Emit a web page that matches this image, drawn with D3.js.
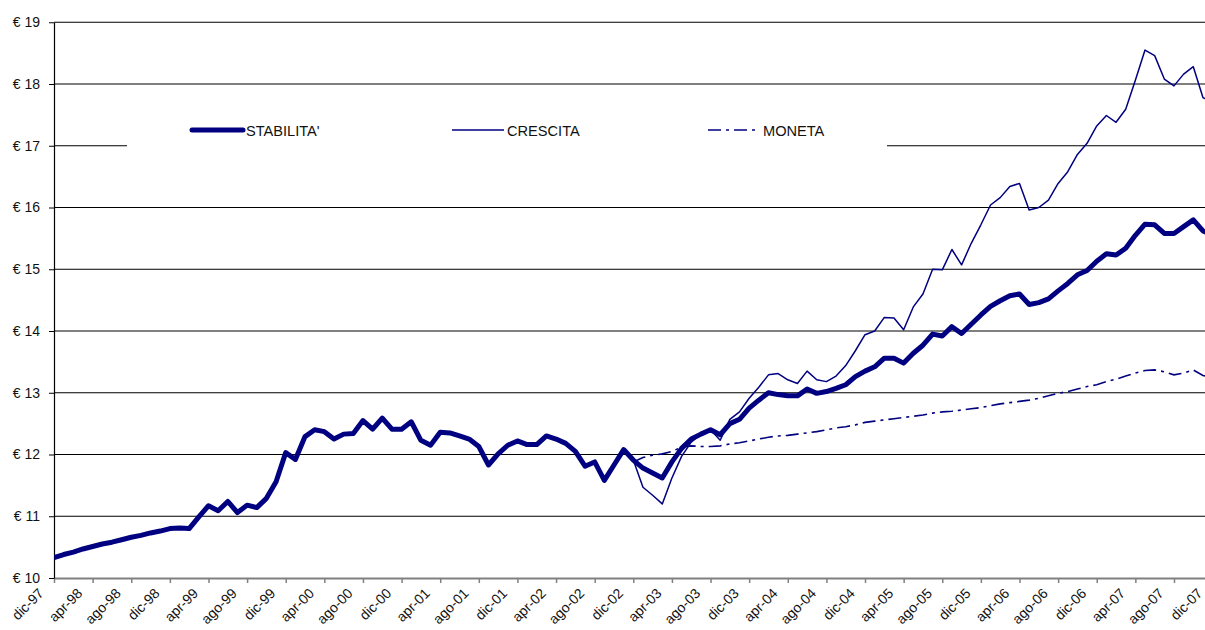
<!DOCTYPE html>
<html>
<head>
<meta charset="utf-8">
<script src="https://cdn.jsdelivr.net/npm/d3@7"></script>
<style>
html,body{margin:0;padding:0;background:#fff;overflow:hidden;}
svg{display:block;font-family:"Liberation Sans",Arial,sans-serif;}
</style>
</head>
<body>
<svg id="chart" width="1205" height="630"></svg>
<script>
// ---- data ----
const monthNames = ["gen","feb","mar","apr","mag","giu","lug","ago","set","ott","nov","dic"];
const startYear = 1997, startMonth = 11, nMonths = 121; // dic-97 .. dic-07
const categories = [];
for (let i = 0; i < nMonths; i++) {
  const m = (startMonth + i) % 12;
  const yr = startYear + Math.floor((startMonth + i) / 12);
  categories.push(monthNames[m] + "-" + String(yr % 100).padStart(2, "0"));
}
const tickLabels = ["dic-97","apr-98","ago-98","dic-98","apr-99","ago-99","dic-99","apr-00","ago-00","dic-00",
  "apr-01","ago-01","dic-01","apr-02","ago-02","dic-02","apr-03","ago-03","dic-03","apr-04","ago-04","dic-04",
  "apr-05","ago-05","dic-05","apr-06","ago-06","dic-06","apr-07","ago-07","dic-07"];
const yTicks = [10,11,12,13,14,15,16,17,18,19];
const seriesNames = ["STABILITA'","CRESCITA","MONETA"];

const stabilita = [
  10.33,10.38,10.42,10.47,10.51,10.55,10.58,10.62,10.66,10.69,10.73,10.76,
  10.80,10.81,10.80,10.99,11.17,11.09,11.24,11.06,11.18,11.14,11.29,11.56,
  12.03,11.92,12.29,12.40,12.37,12.25,12.33,12.34,12.55,12.41,12.59,12.41,
  12.41,12.53,12.23,12.15,12.36,12.35,12.30,12.25,12.13,11.83,12.01,12.15,
  12.22,12.16,12.16,12.30,12.25,12.18,12.05,11.81,11.88,11.58,11.83,12.08,
  11.91,11.78,11.70,11.62,11.88,12.10,12.25,12.33,12.40,12.32,12.50,12.57,
  12.75,12.88,13.00,12.97,12.95,12.95,13.06,12.99,13.02,13.07,13.13,13.26,
  13.35,13.42,13.56,13.56,13.48,13.64,13.77,13.95,13.92,14.07,13.96,14.11,
  14.26,14.40,14.49,14.57,14.60,14.43,14.46,14.52,14.65,14.77,14.91,14.98,
  15.13,15.25,15.23,15.34,15.55,15.73,15.72,15.58,15.58,15.69,15.80,15.62,
  15.55];
const crescita = [
  null,null,null,null,null,null,null,null,null,null,null,null,
  null,null,null,null,null,null,null,null,null,null,null,null,
  null,null,null,null,null,null,null,null,null,null,null,null,
  null,null,null,null,null,null,null,null,null,null,null,null,
  null,null,null,null,null,null,null,null,null,null,null,12.08,
  11.91,11.47,11.34,11.20,11.62,11.97,12.20,12.33,12.40,12.23,12.57,12.69,
  12.91,13.09,13.29,13.31,13.21,13.15,13.35,13.21,13.18,13.27,13.44,13.68,
  13.94,14.00,14.22,14.21,14.02,14.39,14.60,15.00,14.99,15.32,15.07,15.42,
  15.72,16.04,16.16,16.34,16.39,15.96,16.00,16.12,16.39,16.58,16.86,17.04,
  17.32,17.49,17.38,17.59,18.06,18.55,18.46,18.08,17.97,18.16,18.28,17.78,
  17.70];
const moneta = [
  null,null,null,null,null,null,null,null,null,null,null,null,
  null,null,null,null,null,null,null,null,null,null,null,null,
  null,null,null,null,null,null,null,null,null,null,null,null,
  null,null,null,null,null,null,null,null,null,null,null,null,
  null,null,null,null,null,null,null,null,null,null,null,null,
  11.88,11.95,11.99,12.01,12.05,12.12,12.14,12.13,12.13,12.14,12.17,12.19,
  12.22,12.25,12.28,12.30,12.31,12.33,12.35,12.37,12.40,12.43,12.45,12.48,
  12.52,12.54,12.56,12.58,12.60,12.62,12.64,12.67,12.69,12.70,12.72,12.74,
  12.76,12.79,12.82,12.84,12.86,12.88,12.91,12.95,12.99,13.02,13.06,13.10,
  13.13,13.18,13.22,13.27,13.32,13.36,13.37,13.34,13.29,13.32,13.37,13.28,
  13.25];

// ---- layout ----
const svg = d3.select("#chart");
const plotLeft = 54, plotRight = 54 + 120 * 9.655, plotTop = 22.25, plotBottom = 578;
const x = d3.scalePoint().domain(categories).range([plotLeft, plotRight]);
const y = d3.scaleLinear().domain([10, 19]).range([plotBottom, plotTop]);
const navy = "#000080";

svg.append("defs").append("clipPath").attr("id","plotclip")
  .append("rect").attr("x", plotLeft).attr("y", 0).attr("width", 1205 - plotLeft).attr("height", plotBottom + 3);

// gridlines
svg.append("g").selectAll("line").data(yTicks.filter(d => d > 10)).join("line")
  .attr("x1", plotLeft).attr("x2", 1205)
  .attr("y1", d => y(d)).attr("y2", d => y(d))
  .attr("stroke", "#000").attr("stroke-width", 1);

// x axis
const xAxis = svg.append("g").attr("transform", `translate(0,${plotBottom})`)
  .call(d3.axisBottom(x).tickValues(tickLabels).tickSize(5).tickSizeOuter(0));
xAxis.select(".domain").attr("stroke", "#808080").attr("stroke-width", 2);
xAxis.selectAll(".tick line").attr("stroke", "#808080").attr("stroke-width", 1.5);
xAxis.selectAll(".tick text")
  .attr("font-family", "'Liberation Sans', Arial, sans-serif")
  .attr("font-size", 14).attr("fill", "#111")
  .attr("text-anchor", "end")
  .attr("y", 0).attr("dy", "0.72em")
  .attr("transform", "translate(-17,9) rotate(-45)");

// y axis
const yAxis = svg.append("g").attr("transform", `translate(${plotLeft},0)`)
  .call(d3.axisLeft(y).tickValues(yTicks).tickFormat(d => "€ " + d).tickSize(5).tickPadding(9).tickSizeOuter(0));
yAxis.select(".domain").attr("stroke", "#000").attr("stroke-width", 1.2);
yAxis.selectAll(".tick line").attr("stroke", "#000");
yAxis.selectAll(".tick text")
  .attr("font-family", "'Liberation Sans', Arial, sans-serif")
  .attr("font-size", 14).attr("fill", "#111");

// lines
const lineGen = d3.line()
  .defined(d => d.v !== null)
  .x(d => x(d.c)).y(d => y(d.v));
const toPts = arr => arr.map((v, i) => ({c: categories[i], v}));
const plot = svg.append("g").attr("clip-path", "url(#plotclip)");
plot.append("path").datum(toPts(stabilita)).attr("d", lineGen)
  .attr("fill", "none").attr("stroke", navy).attr("stroke-width", 5).attr("stroke-linejoin", "round");
plot.append("path").datum(toPts(crescita)).attr("d", lineGen)
  .attr("fill", "none").attr("stroke", navy).attr("stroke-width", 1.5).attr("stroke-linejoin", "round");
plot.append("path").datum(toPts(moneta)).attr("d", lineGen)
  .attr("fill", "none").attr("stroke", navy).attr("stroke-width", 1.6).attr("stroke-dasharray", "13,5,3,5");

// legend
const lg = svg.append("g");
lg.append("rect").attr("x", 127).attr("y", 112).attr("width", 760).attr("height", 38).attr("fill", "#fff");
const legendItems = [
  {name: seriesNames[0], x1: 192, x2: 243, w: 5, dash: null, cap: "round"},
  {name: seriesNames[1], x1: 452, x2: 504, w: 1.5, dash: null, cap: "butt"},
  {name: seriesNames[2], x1: 708, x2: 760, w: 1.6, dash: "13,5,3,5", cap: "butt"}
];
legendItems.forEach(it => {
  lg.append("line").attr("x1", it.x1).attr("x2", it.x2).attr("y1", 130).attr("y2", 130)
    .attr("stroke", navy).attr("stroke-width", it.w).attr("stroke-linecap", it.cap)
    .attr("stroke-dasharray", it.dash);
  lg.append("text").attr("x", it.x2 + 3).attr("y", 136)
    .attr("font-size", 14.6).attr("fill", "#111").text(it.name);
});
</script>
</body>
</html>
